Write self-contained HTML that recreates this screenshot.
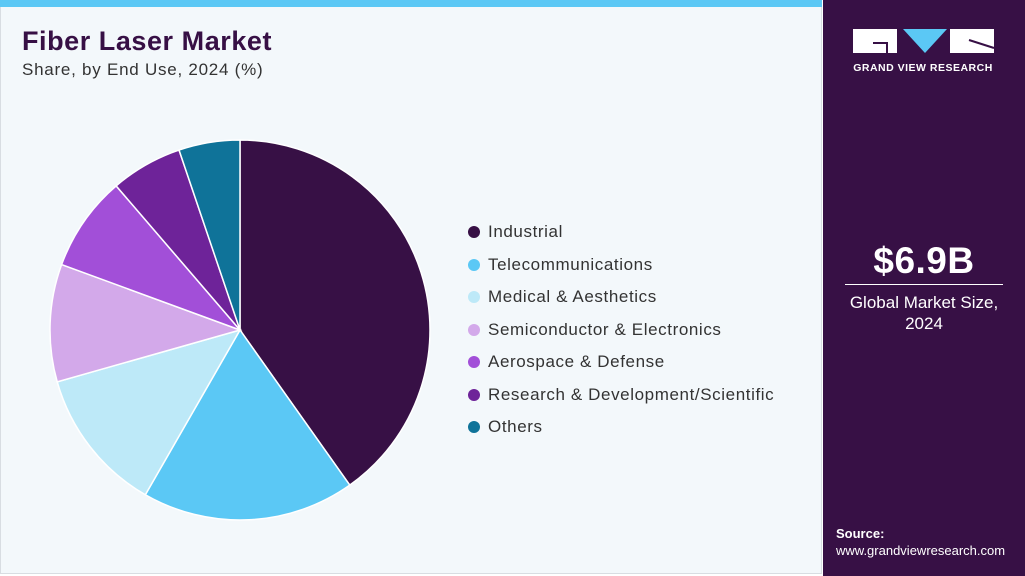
<!DOCTYPE html>
<html><head><meta charset="utf-8"><style>
body{margin:0;width:1025px;height:576px;overflow:hidden;background:#fff;font-family:"Liberation Sans",sans-serif;position:relative}
.main{position:absolute;left:0;top:0;width:822px;height:574px;background:#f3f8fb;border:1px solid #d8dde2;box-sizing:border-box}
.strip{position:absolute;left:0;top:0;width:822px;height:7px;background:#5bc8f5}
.side{position:absolute;left:823px;top:0;width:202px;height:576px;background:#371045;color:#fff}
h1{position:absolute;left:22px;top:26px;margin:0;font-size:27px;font-weight:bold;color:#371045;letter-spacing:0.55px}
.sub{position:absolute;left:22px;top:60px;font-size:17px;color:#333;letter-spacing:0.75px}
.leg{position:absolute;left:468px;font-size:17px;color:#333;letter-spacing:0.6px}
.leg span{display:inline-block;width:12px;height:12px;border-radius:50%;margin-right:8px;vertical-align:-1px}
</style></head><body>
<div class="main"></div>
<div class="strip"></div>
<h1>Fiber Laser Market</h1>
<div class="sub">Share, by End Use, 2024 (%)</div>
<svg id="pie" width="822" height="576" style="position:absolute;left:0;top:0"></svg>
<div id="legend"></div>
<div class="side">
<svg width="202" height="80" style="position:absolute;left:0;top:0">
<rect x="30" y="29" width="44" height="24" fill="#fff"/><path d="M50 43h14v10" stroke="#371045" stroke-width="2" fill="none"/>
<polygon points="80,29 124,29 102,53" fill="#5bc8f5"/>
<rect x="127" y="29" width="44" height="24" fill="#fff"/><path d="M146 40l25 8" stroke="#371045" stroke-width="2"/>
<text x="100" y="71" text-anchor="middle" font-size="10.5" font-weight="bold" fill="#fff" font-family="Liberation Sans" letter-spacing="0.5">GRAND VIEW RESEARCH</text>
</svg>
<div style="position:absolute;left:0;width:202px;top:240px;text-align:center;font-size:37px;font-weight:bold;letter-spacing:0.5px">$6.9B</div>
<div style="position:absolute;left:22px;width:158px;top:284px;border-top:1px solid #fff"></div>
<div style="position:absolute;left:0;width:202px;top:292px;text-align:center;font-size:17px;line-height:21px">Global Market Size,<br>2024</div>
<div style="position:absolute;left:13px;top:526px;font-size:13px;font-weight:bold">Source:</div>
<div style="position:absolute;left:13px;top:543px;font-size:13px">www.grandviewresearch.com</div>
</div>
<script>
const categories=["Industrial","Telecommunications","Medical & Aesthetics","Semiconductor & Electronics","Aerospace & Defense","Research & Development/Scientific","Others"];
const shares=[40.2,18.1,12.3,10.0,8.1,6.1,5.2];
const colors=["#371045","#5bc8f5","#bde9f8","#d3a9ea","#a24fd8","#6e2399","#0f7399"];
const svg=document.getElementById('pie');const ns="http://www.w3.org/2000/svg";
const cx=240,cy=330,r=190;const total=shares.reduce((a,b)=>a+b,0);
let a0=0;
function pt(a){return [cx+r*Math.sin(a),cy-r*Math.cos(a)];}
shares.forEach((v,i)=>{const a1=a0+v/total*2*Math.PI;const p0=pt(a0),p1=pt(a1);
const p=document.createElementNS(ns,'path');
p.setAttribute('d',`M${cx},${cy}L${p0[0]},${p0[1]}A${r},${r} 0 ${a1-a0>Math.PI?1:0} 1 ${p1[0]},${p1[1]}Z`);
p.setAttribute('fill',colors[i]);p.setAttribute('stroke','#fff');p.setAttribute('stroke-width','1.5');


svg.appendChild(p);a0=a1;});
const lg=document.getElementById('legend');
categories.forEach((c,i)=>{const d=document.createElement('div');d.className='leg';d.style.top=(222+i*32.5)+'px';
d.innerHTML=`<span style="background:${colors[i]}"></span>${c.replace('&','&amp;')}`;


lg.appendChild(d);});
</script>
</body></html>
